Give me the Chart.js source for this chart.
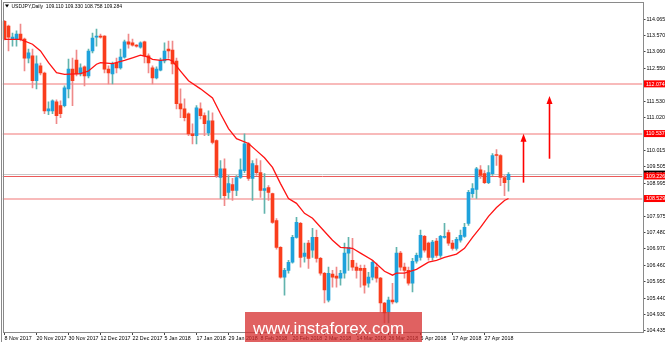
<!DOCTYPE html>
<html>
<head>
<meta charset="utf-8">
<script src="https://cdn.jsdelivr.net/npm/chart.js@4.4.0/dist/chart.umd.min.js"></script>
<style>
  html, body { margin: 0; padding: 0; background: #fff; }
</style>
</head>
<body>
<canvas id="chart" width="665" height="342"></canvas>
<script>
// USDJPY daily, 8 Nov 2017 .. 7 May 2018
const opens = [
  114.01, 113.86, 113.46, 113.46, 113.61, 113.46, 112.87, 112.94, 112.17, 112.63,
  112.41, 111.24, 111.24, 111.52, 111.40, 111.40, 111.92, 112.53, 112.81, 112.38,
  112.60, 112.32, 113.09, 113.52, 113.55, 113.55, 112.53, 112.38, 112.72, 112.57,
  112.90, 113.37, 113.34, 113.27, 113.21, 113.37, 112.94, 112.57, 112.26, 112.50,
  112.78, 113.15, 113.12, 112.78, 111.46, 111.30, 111.15, 110.53, 110.47, 111.30,
  111.09, 110.56, 110.93, 110.32, 109.18, 109.45, 108.72, 108.96, 108.78, 109.18,
  109.39, 110.22, 109.15, 109.55, 109.33, 108.78, 108.87, 108.68, 107.85, 107.02,
  106.10, 106.31, 106.56, 107.33, 107.76, 106.74, 107.15, 106.93, 107.33, 106.68,
  106.22, 105.39, 106.19, 106.13, 106.07, 106.22, 106.84, 106.62, 106.41, 106.37,
  106.37, 105.91, 106.10, 106.41, 106.07, 105.30, 105.02, 105.39, 105.33, 106.84,
  106.41, 106.31, 105.91, 106.59, 106.71, 107.36, 107.15, 106.71, 107.21, 106.77,
  107.33, 107.48, 107.15, 106.99, 107.24, 107.36, 107.76, 108.68, 108.81, 109.42,
  109.30, 109.02, 109.30, 109.89, 109.86, 109.18, 109.11
];
const highs = [
  114.04, 113.89, 113.64, 113.71, 113.92, 113.49, 113.15, 113.15, 112.94, 112.72,
  112.44, 111.52, 111.58, 111.58, 111.55, 112.01, 112.84, 112.87, 113.12, 112.69,
  112.63, 113.15, 113.64, 113.77, 113.61, 113.57, 112.63, 112.75, 112.87, 113.15,
  113.43, 113.61, 113.46, 113.29, 113.37, 113.40, 113.00, 112.63, 112.60, 112.87,
  113.34, 113.40, 113.40, 112.87, 111.92, 111.61, 111.18, 110.84, 111.40, 111.49,
  111.18, 111.24, 111.18, 110.34, 109.70, 109.76, 109.24, 109.15, 109.24, 109.76,
  110.53, 110.26, 109.70, 109.76, 109.70, 109.30, 108.93, 108.70, 107.91, 107.04,
  106.37, 106.62, 107.39, 107.95, 107.79, 107.15, 107.24, 107.61, 107.55, 106.71,
  106.25, 106.41, 106.31, 106.41, 106.31, 107.15, 107.33, 107.30, 106.53, 106.47,
  106.47, 106.25, 106.62, 106.53, 106.09, 105.32, 105.48, 105.91, 107.02, 106.90,
  106.53, 106.41, 106.68, 106.84, 107.55, 107.39, 107.18, 107.24, 107.30, 107.39,
  107.76, 107.55, 107.24, 107.33, 107.55, 107.76, 108.78, 108.99, 109.49, 109.55,
  109.39, 109.55, 109.92, 110.04, 109.89, 109.24, 109.33
];
const lows = [
  113.43, 113.09, 113.24, 113.24, 113.40, 112.47, 112.72, 111.95, 111.92, 112.35,
  111.15, 111.12, 111.15, 110.84, 111.03, 111.36, 111.64, 111.40, 112.32, 112.32,
  112.01, 112.26, 113.03, 113.24, 113.49, 112.41, 112.07, 112.07, 112.41, 112.53,
  112.87, 113.18, 113.24, 113.21, 113.18, 112.72, 112.41, 112.07, 112.23, 112.47,
  112.72, 112.87, 112.38, 111.30, 111.03, 110.93, 110.47, 110.22, 110.22, 110.99,
  110.47, 110.47, 110.22, 109.18, 108.53, 108.31, 108.53, 108.47, 108.62, 109.15,
  109.33, 109.09, 108.47, 109.24, 108.56, 108.07, 108.47, 107.76, 106.96, 106.07,
  105.54, 106.22, 106.53, 107.30, 106.41, 106.56, 106.37, 106.71, 106.56, 106.16,
  105.30, 105.33, 105.79, 105.79, 105.85, 106.07, 106.31, 106.31, 106.07, 105.79,
  105.60, 105.79, 106.01, 105.94, 105.02, 104.68, 104.68, 105.27, 105.30, 106.31,
  106.07, 105.85, 105.64, 106.53, 106.62, 106.87, 106.62, 106.62, 106.71, 106.71,
  107.30, 107.08, 106.93, 106.93, 107.18, 107.33, 107.70, 108.56, 108.53, 109.15,
  108.99, 108.99, 109.24, 109.55, 108.93, 108.62, 108.76
];
const closes = [
  113.46, 113.52, 113.52, 113.61, 113.46, 112.87, 113.03, 112.17, 112.69, 112.41,
  111.24, 111.30, 111.55, 111.09, 111.15, 111.95, 112.53, 112.17, 112.38, 112.57,
  112.32, 113.09, 113.49, 113.55, 113.52, 112.53, 112.41, 112.69, 112.57, 112.90,
  113.37, 113.30, 113.27, 113.24, 113.34, 112.94, 112.72, 112.26, 112.53, 112.81,
  113.09, 113.09, 112.69, 111.46, 111.30, 111.03, 110.53, 110.47, 111.33, 111.09,
  110.84, 110.93, 110.26, 109.24, 109.45, 108.62, 108.99, 108.78, 109.18, 109.42,
  110.22, 109.15, 109.61, 109.33, 108.78, 108.84, 108.72, 107.79, 107.02, 106.10,
  106.31, 106.56, 107.33, 107.79, 106.71, 106.84, 106.68, 107.33, 106.68, 106.22,
  105.70, 106.22, 106.10, 106.07, 106.22, 106.84, 107.02, 106.41, 106.31, 106.31,
  105.85, 106.10, 106.56, 106.07, 105.30, 104.99, 105.39, 105.33, 106.84, 106.41,
  106.31, 105.91, 106.59, 106.77, 107.39, 106.93, 106.71, 107.18, 106.77, 107.36,
  107.36, 107.15, 106.99, 107.27, 107.39, 107.64, 108.72, 108.84, 109.45, 109.24,
  109.02, 109.33, 109.86, 109.86, 109.18, 109.02, 109.28
];

// moving average, sampled at these bars
const maBars = [0, 4, 7, 9, 11, 13, 15, 19, 21, 23, 24, 27, 30, 32, 34, 36, 37, 39, 41, 42,
  44, 46, 49, 52, 54, 56, 58, 61, 63, 65, 67, 69, 71, 73, 75, 77, 80, 82, 84, 87,
  89, 92, 95, 97, 98, 100, 103, 106, 108, 110, 113, 115, 117, 119, 121, 123, 125, 126];
const maValues = [113.45, 113.45, 113.30, 113.09, 112.73, 112.42, 112.37, 112.39, 112.47, 112.68,
  112.73, 112.70, 112.80, 112.88, 112.96, 112.90, 112.83, 112.80, 112.83, 112.78,
  112.47, 112.17, 111.92, 111.64, 111.15, 110.69, 110.38, 110.23, 110.01, 109.79,
  109.49, 108.99, 108.53, 108.38, 108.07, 107.92, 107.51, 107.24, 107.02, 106.99,
  106.84, 106.62, 106.28, 106.16, 106.22, 106.22, 106.34, 106.56, 106.62, 106.71,
  106.81, 106.99, 107.33, 107.64, 107.98, 108.25, 108.47, 108.53];

const priceTicks = [114.065, 113.570, 113.060, 112.550, 111.530, 111.020, 110.015, 109.505,
  108.995, 107.975, 107.480, 106.970, 106.460, 105.950, 105.440, 104.930, 104.435];
const dateTicks = ['8 Nov 2017', '20 Nov 2017', '30 Nov 2017', '12 Dec 2017', '22 Dec 2017',
  '5 Jan 2018', '17 Jan 2018', '29 Jan 2018', '8 Feb 2018', '20 Feb 2018', '2 Mar 2018',
  '14 Mar 2018', '26 Mar 2018', '5 Apr 2018', '17 Apr 2018', '27 Apr 2018'];
const tickEvery = 8;
const slotCount = 160;

const levels = [112.074, 110.537, 109.226, 108.529];
const bidPrice = 109.284;
const arrowBars = [129.5, 136.0];
const arrowFrom = [109.02, 109.76];
const arrowTo = [110.53, 111.70];
const titleText = 'USDJPY,Daily  109.110 109.330 108.758 109.284';

const FONT = "'Liberation Sans', Arial, sans-serif";
const BULL = '#1ea2dc', BEAR = '#fa3d1c';
const BULL_WICK = '#62b4ae', BEAR_WICK = '#ef8a8a';

const slots = Array.from({ length: slotCount }, (_, i) => i);
const bodies = opens.map((o, i) => [o, closes[i]]);
const wicks = lows.map((l, i) => [l, highs[i]]);
const bull = opens.map((o, i) => closes[i] >= o);
const maSeries = new Array(closes.length).fill(null);
maBars.forEach((b, k) => { maSeries[b] = maValues[k]; });

function labelBox(ctx, yPix, text, fill) {
    ctx.fillStyle = fill;
    ctx.fillRect(644, yPix - 3.5, 21, 7);
    ctx.fillStyle = '#fff';
    ctx.font = `5.3px ${FONT}`;
    ctx.textAlign = 'left';
    ctx.textBaseline = 'middle';
    ctx.fillText(text, 646, yPix + 0.3);
}

const overlay = {
    id: 'overlay',
    beforeDatasetsDraw(chart) {
        const { ctx, chartArea: a, scales: { y } } = chart;
        ctx.save();
        ctx.beginPath();
        ctx.rect(a.left, a.top, a.right - a.left, a.bottom - a.top);
        ctx.clip();

        let py = Math.round(y.getPixelForValue(bidPrice)) + 0.5;
        ctx.strokeStyle = '#c8c8c8';
        ctx.lineWidth = 1;
        ctx.beginPath(); ctx.moveTo(a.left, py); ctx.lineTo(a.right, py); ctx.stroke();

        levels.forEach((v, i) => {
            const thin = i === 2;
            py = Math.round(y.getPixelForValue(v)) + (thin ? 0.5 : 0);
            ctx.strokeStyle = thin ? '#ec5a5a' : 'rgba(238, 90, 90, 0.42)';
            ctx.lineWidth = thin ? 1 : 2;
            ctx.beginPath(); ctx.moveTo(a.left, py); ctx.lineTo(a.right, py); ctx.stroke();
        });
        ctx.restore();
    },
    afterDatasetsDraw(chart) {
        const { ctx, scales: { x, y } } = chart;
        ctx.save();
        ctx.strokeStyle = '#ff0000';
        ctx.fillStyle = '#ff0000';
        ctx.lineWidth = 1.6;
        arrowBars.forEach((b, i) => {
            const px = Math.round(x.getPixelForValue(b)) + 0.5;
            const y0 = y.getPixelForValue(arrowFrom[i]);
            const y1 = y.getPixelForValue(arrowTo[i]);
            ctx.beginPath(); ctx.moveTo(px, y0); ctx.lineTo(px, y1 + 6); ctx.stroke();
            ctx.beginPath();
            ctx.moveTo(px, y1);
            ctx.lineTo(px - 3, y1 + 8);
            ctx.lineTo(px + 3, y1 + 8);
            ctx.closePath();
            ctx.fill();
        });
        ctx.restore();
    },
    afterDraw(chart) {
        const { ctx, scales: { y } } = chart;
        ctx.save();

        // MT4 style frame
        ctx.strokeStyle = '#8a8a8a';
        ctx.lineWidth = 1;
        ctx.strokeRect(3.5, 2.5, 640, 330);
        ctx.beginPath(); ctx.moveTo(1.5, 0); ctx.lineTo(1.5, 342); ctx.stroke();

        // price labels on the right axis
        labelBox(ctx, y.getPixelForValue(bidPrice), bidPrice.toFixed(3), '#000');
        levels.forEach((v) => labelBox(ctx, y.getPixelForValue(v), v.toFixed(3), '#ff0000'));

        // symbol title
        ctx.fillStyle = '#000';
        ctx.beginPath();
        ctx.moveTo(5, 4.5); ctx.lineTo(9, 4.5); ctx.lineTo(7, 7.5); ctx.closePath();
        ctx.fill();
        ctx.font = `5px ${FONT}`;
        ctx.textAlign = 'left';
        ctx.textBaseline = 'middle';
        ctx.fillText(titleText, 11.5, 6.2);

        // watermark
        ctx.fillStyle = 'rgba(214, 44, 44, 0.75)';
        ctx.fillRect(245, 312, 177, 30);
        ctx.fillStyle = '#fff';
        ctx.font = `17px ${FONT}`;
        ctx.textBaseline = 'alphabetic';
        ctx.fillText('www.instaforex.com', 253, 334);
        ctx.restore();
    }
};

new Chart(document.getElementById('chart').getContext('2d'), {
    type: 'bar',
    data: {
        labels: slots,
        datasets: [
            {
                type: 'line', label: 'MA', data: maSeries, spanGaps: true,
                borderColor: '#ff1414', borderWidth: 1.3, pointRadius: 0, tension: 0, order: 0
            },
            {
                label: 'body', data: bodies, grouped: false, barThickness: 3, minBarLength: 1,
                backgroundColor: bull.map((b) => (b ? BULL : BEAR)), order: 1
            },
            {
                label: 'wick', data: wicks, grouped: false, barThickness: 1,
                backgroundColor: bull.map((b) => (b ? BULL_WICK : BEAR_WICK)), order: 2
            }
        ]
    },
    options: {
        responsive: false,
        animation: false,
        events: [],
        layout: { padding: { left: 2.5, top: 3, right: 0, bottom: 0 } },
        plugins: { legend: { display: false }, tooltip: { enabled: false } },
        scales: {
            x: {
                type: 'category',
                offset: true,
                border: { display: false },
                grid: { drawOnChartArea: false, offset: false, tickLength: 3, color: '#444' },
                ticks: {
                    autoSkip: false, maxRotation: 0, align: 'start', padding: 0,
                    color: '#000', font: { size: 5.3, family: FONT },
                    callback: (v) => dateTicks[v / tickEvery]
                },
                afterBuildTicks: (s) => {
                    s.ticks = s.ticks.filter((t) => t.value % tickEvery === 0 && t.value / tickEvery < dateTicks.length);
                },
                afterFit: (s) => { s.height = 10; }
            },
            y: {
                position: 'right',
                min: 104.403,
                max: 114.537,
                border: { display: false },
                grid: { drawOnChartArea: false, tickLength: 3, color: '#444' },
                ticks: {
                    padding: 1, crossAlign: 'near', color: '#000',
                    font: { size: 5.3, family: FONT },
                    callback: (v) => Number(v).toFixed(3)
                },
                afterBuildTicks: (s) => { s.ticks = priceTicks.map((v) => ({ value: v })); },
                afterFit: (s) => { s.width = 22.5; }
            }
        }
    },
    plugins: [overlay]
});
</script>
</body>
</html>
